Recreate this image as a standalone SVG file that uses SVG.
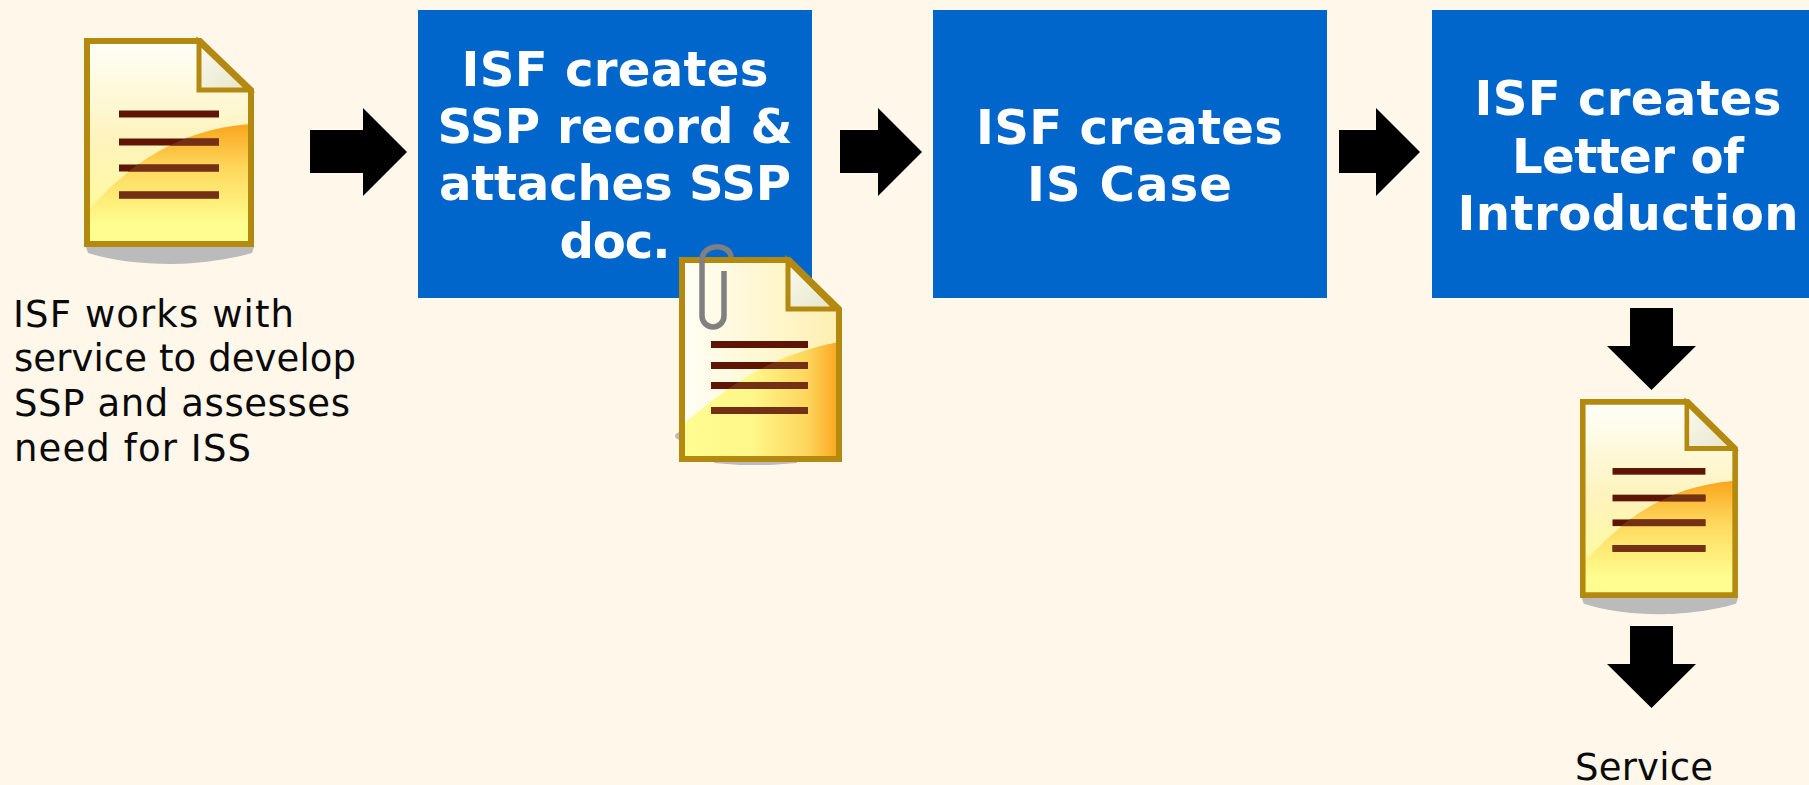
<svg xmlns="http://www.w3.org/2000/svg" xmlns:xlink="http://www.w3.org/1999/xlink" width="1809" height="785" viewBox="0 0 1809 785">
<style>
.box{fill:#0066cc}
.h{font:bold 48.200px "DejaVu Sans",Verdana,sans-serif;fill:#fff;text-anchor:middle}
.t{font:37px "DejaVu Sans",Verdana,sans-serif;fill:#0a0a0a}
.arrow{fill:#000}
.edge{fill:none;stroke:#b3890f;stroke-width:6}
.ln{fill:#5f1505}
.ln2{fill:#743014}
.shadow{fill:#bbb}
</style>
<defs>
<linearGradient id="page" x1="0" y1="0" x2="0" y2="1"><stop offset="0" stop-color="#fffffa"/><stop offset=".5" stop-color="#fef3bb"/><stop offset="1" stop-color="#fffd90"/></linearGradient>
<linearGradient id="orange" gradientUnits="userSpaceOnUse" x1="0" y1="124" x2="0" y2="225"><stop offset="0" stop-color="#fba51d"/><stop offset=".45" stop-color="#fdd95e"/><stop offset="1" stop-color="#fffd90"/></linearGradient>
<linearGradient id="fold" x1="0" y1="0" x2="1" y2="1"><stop offset="0" stop-color="#fbfbf0"/><stop offset="1" stop-color="#e6e4c8"/></linearGradient>
<linearGradient id="page2" x1="0" y1="0" x2="1" y2="0"><stop offset="0" stop-color="#fffef5"/><stop offset="1" stop-color="#fef0b0"/></linearGradient>
<linearGradient id="orange2" x1="0" y1="0" x2="1" y2="0"><stop offset="0" stop-color="#fffd90"/><stop offset=".45" stop-color="#fff78a"/><stop offset=".8" stop-color="#fdd55c"/><stop offset="1" stop-color="#fba51d"/></linearGradient>
<clipPath id="oc"><path d="M86 210C130 165 175 130 252 124V246H86Z"/></clipPath>
<clipPath id="oc2"><path d="M681 425C730 385 770 355 840 342V460H681Z"/></clipPath>
<g id="doc">
<path class="shadow" d="M86 247H254L252 253C225 261 190 264 170 264C140 264 110 260 88 253Z"/>
<path d="M87 41H199L251 90V244H87Z" fill="url(#page)"/>
<path d="M88 210C130 165 175 130 250 124V243H88Z" fill="url(#orange)"/>
<g class="ln"><rect x="119" y="110.500" width="100" height="7"/><rect x="119" y="138.500" width="100" height="7"/><rect x="119" y="164.500" width="100" height="7"/><rect x="119" y="191.500" width="100" height="7"/></g>
<g class="ln2" clip-path="url(#oc)"><rect x="119" y="138.500" width="100" height="7"/><rect x="119" y="164.500" width="100" height="7"/><rect x="119" y="191.500" width="100" height="7"/></g>
<path d="M199 42L249 90H199Z" fill="url(#fold)" stroke="#b3890f" stroke-width="5"/>
<path class="edge" d="M87 41H200L251 90V244H87Z"/>
</g>
</defs>
<rect width="1809" height="785" fill="#fff7e9"/>
<g id="connectors" class="arrow">
<path d="M310 130H363V108L407 152L363 196V173H310Z"/>
<path d="M840 130H878V108L922 152L878 196V173H840Z"/>
<path d="M1339 130H1376V108L1420 152L1376 196V173H1339Z"/>
<path d="M1630 308H1673V346H1696L1651.500 390L1607 346H1630Z"/>
<path d="M1630 626H1673V664H1696L1651.500 708L1607 664H1630Z"/>
</g>
<g id="node-doc1"><use href="#doc" xlink:href="#doc"/></g>
<g id="node-text1"><text class="t" x="13" y="327" textLength="281">ISF works with</text><text class="t" x="14" y="371" textLength="342">service to develop</text><text class="t" x="14" y="416" textLength="336">SSP and assesses</text><text class="t" x="14" y="461" textLength="237">need for ISS</text></g>
<g id="node-box1"><rect class="box" x="418" y="10" width="394" height="288"/>
<text class="h" x="615" y="86" textLength="307">ISF creates</text><text class="h" x="615" y="143" textLength="355">SSP record &amp;</text><text class="h" x="615" y="200" textLength="352">attaches SSP</text><text class="h" x="615" y="258" textLength="111">doc.</text></g>
<g id="node-doc2">
<ellipse class="shadow" cx="681" cy="436" rx="6" ry="4"/><path class="shadow" d="M714 460H797V463L770 465H740L714 463Z"/>
<path d="M682 260H788L839 309V459H682Z" fill="url(#page2)"/>
<path d="M682 425C730 385 770 355 839 342V459H682Z" fill="url(#orange2)"/>
<g class="ln"><rect x="711" y="341" width="97" height="7"/><rect x="711" y="362" width="97" height="7"/><rect x="711" y="382" width="97" height="7"/><rect x="711" y="407" width="97" height="7"/></g>
<g class="ln2" clip-path="url(#oc2)"><rect x="711" y="362" width="97" height="7"/><rect x="711" y="382" width="97" height="7"/><rect x="711" y="407" width="97" height="7"/></g>
<path d="M788 261L836 309H788Z" fill="url(#fold)" stroke="#b3890f" stroke-width="5"/>
<path class="edge" d="M682 260H789L839 309V459H682Z"/>
<path d="M724 271V316A11 11 0 0 1 702 316V260C702 243 730 243 731 257" fill="none" stroke="#808080" stroke-width="5.500"/>
</g>
<g id="node-box2"><rect class="box" x="933" y="10" width="394" height="288"/>
<text class="h" x="1129.500" y="143.500" textLength="307">ISF creates</text><text class="h" x="1129.500" y="201" textLength="205">IS Case</text></g>
<g id="node-box3"><rect class="box" x="1432" y="10" width="377" height="288"/>
<text class="h" x="1628" y="115" textLength="307">ISF creates</text><text class="h" x="1628" y="172.500" textLength="232">Letter of</text><text class="h" x="1628" y="230" textLength="341">Introduction</text></g>
<g id="node-doc3"><use href="#doc" xlink:href="#doc" transform="translate(1580 399) scale(.929 .952) translate(-84 -38)"/></g>
<g id="node-service"><text class="t" x="1575" y="780" textLength="138">Service</text></g>
</svg>
